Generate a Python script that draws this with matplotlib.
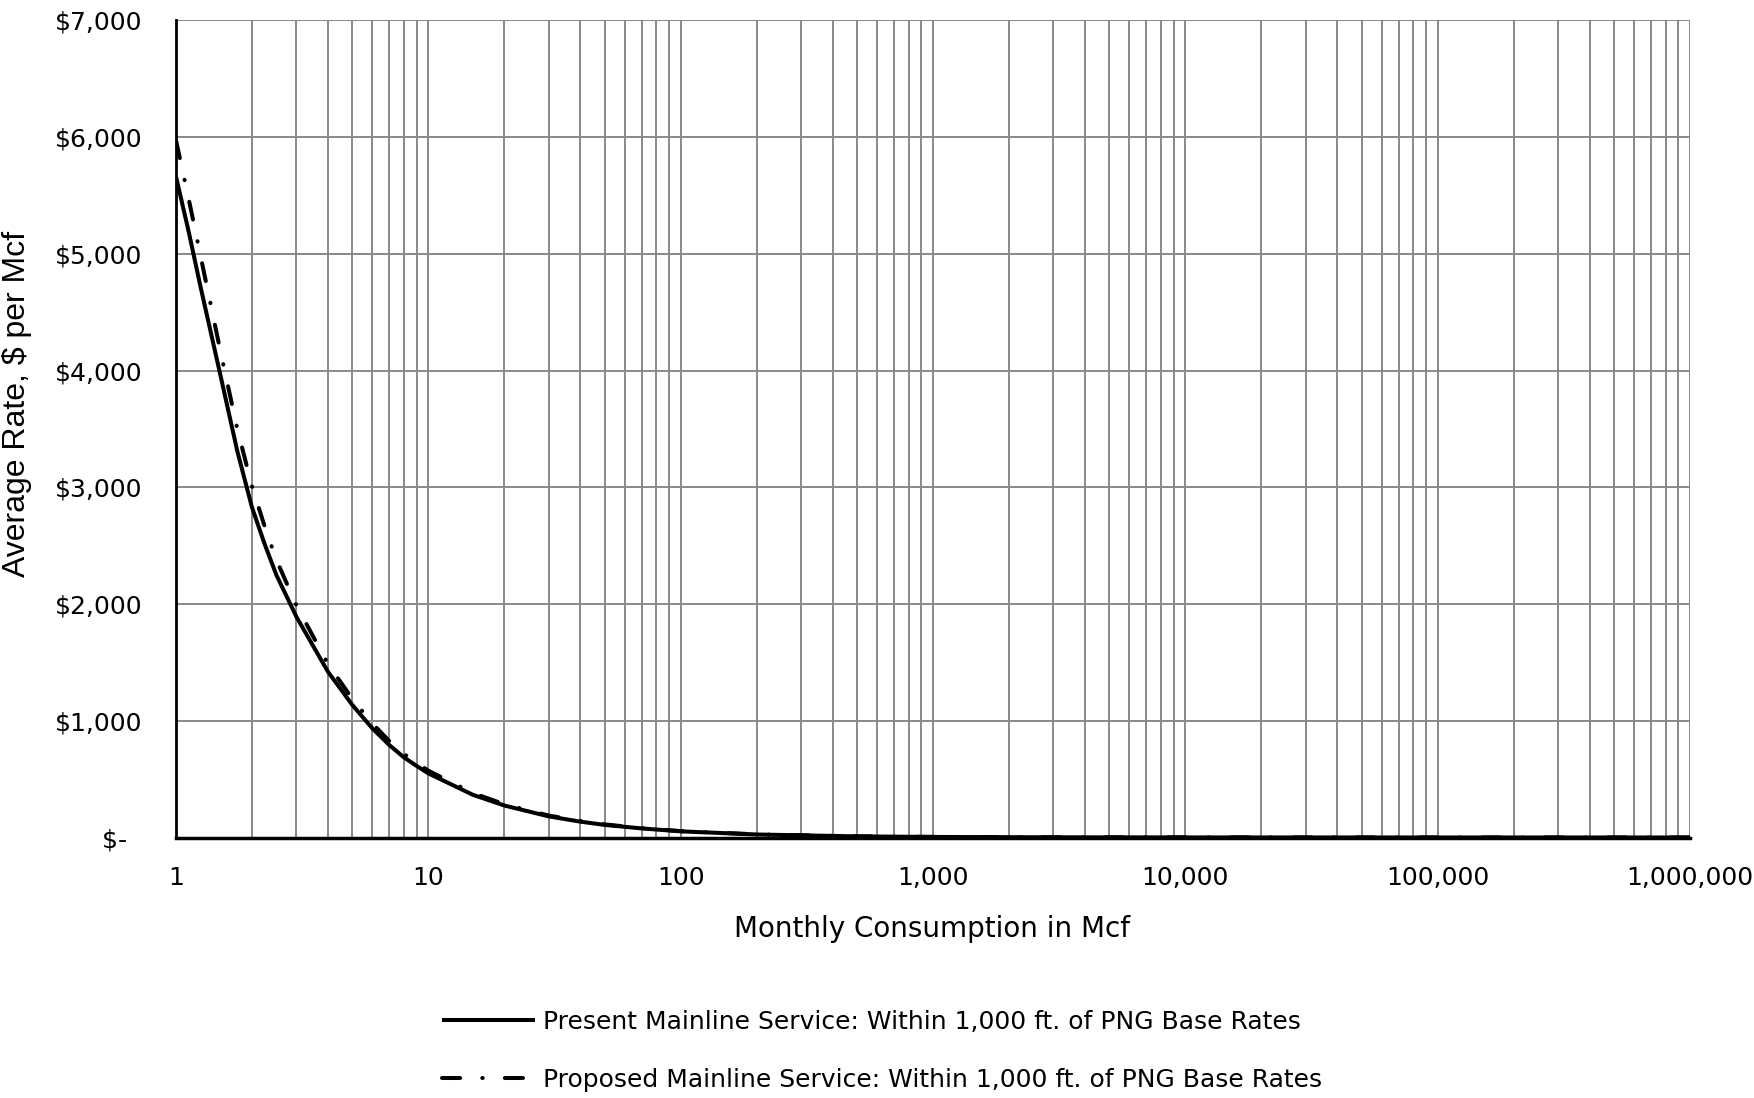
import numpy as np
import matplotlib
matplotlib.use("Agg")
from matplotlib import pyplot as plt
from matplotlib import ticker as mticker

# values
usage_mcf = [1, 1.125, 1.25, 1.5, 1.75, 2, 2.25, 2.5, 3, 4, 5, 6, 7, 8, 9, 10, 15, 20, 30,
             40, 50, 70, 100, 200, 500, 1000, 3000, 10000, 100000, 1000000]
present_rate = [5660, 5180, 4720, 3960, 3310, 2830, 2510, 2250, 1893, 1423, 1138, 938, 796,
                690, 616, 553, 370, 278, 185, 140, 112, 82, 57, 30, 14, 9, 6, 5, 4.5, 4.4]
proposed_rate = [5970, 5460, 4985, 4165, 3500, 3010, 2660, 2380, 1990, 1490, 1190, 980, 830,
                 720, 642, 576, 385, 289, 192, 146, 116, 85, 59, 31, 14.5, 9.3, 6.2, 5.2,
                 4.7, 4.6]

ytick_vals = [0, 1000, 2000, 3000, 4000, 5000, 6000, 7000]
ytick_labels = ["$-  ", "$1,000", "$2,000", "$3,000", "$4,000", "$5,000", "$6,000", "$7,000"]
xtick_vals = [1, 10, 100, 1000, 10000, 100000, 1000000]
xtick_labels = ["1", "10", "100", "1,000", "10,000", "100,000", "1,000,000"]

label_present = "Present Mainline Service: Within 1,000 ft. of PNG Base Rates"
label_proposed = "Proposed Mainline Service: Within 1,000 ft. of PNG Base Rates"

FS = 18
grid_c = '#898989'

fig = plt.figure(figsize=(17.54, 10.98), dpi=100, facecolor='white')
ax = fig.add_axes([176/1754, 1 - 838/1098, (1690-176)/1754, (838-20)/1098])

ax.plot(usage_mcf, present_rate, color='black', lw=2.9, solid_capstyle='butt',
        label=label_present, zorder=4)
ax.plot(usage_mcf, proposed_rate, color='black', lw=2.9, dashes=(4.5, 5.5, 0.1, 5.5),
        dash_capstyle='round', label=label_proposed, zorder=3)

ax.set_xscale('log')
ax.set_xlim(1, 1000000)
ax.set_ylim(0, 7000)

ax.xaxis.set_major_locator(mticker.FixedLocator(xtick_vals))
ax.xaxis.set_major_formatter(mticker.FixedFormatter(xtick_labels))
ax.xaxis.set_minor_locator(mticker.LogLocator(base=10, subs=np.arange(2, 10)))
ax.xaxis.set_minor_formatter(mticker.NullFormatter())
ax.yaxis.set_major_locator(mticker.FixedLocator(ytick_vals))
ax.yaxis.set_major_formatter(mticker.FixedFormatter(ytick_labels))

ax.grid(True, which='both', axis='x', color=grid_c, lw=1.4)
ax.grid(True, which='major', axis='y', color=grid_c, lw=1.4)
ax.set_axisbelow(True)

ax.spines['top'].set_visible(False)
ax.spines['right'].set_visible(False)
ax.spines['left'].set_linewidth(2.0)
ax.spines['bottom'].set_linewidth(2.5)
ax.spines['left'].set_zorder(5)
ax.spines['bottom'].set_zorder(5)

ax.tick_params(axis='both', which='both', length=0, labelsize=FS, colors='black')
ax.tick_params(axis='y', pad=24)
ax.tick_params(axis='x', pad=20)

fig.text(17/1754, 1 - 404/1098, "Average Rate, $ per Mcf", rotation=90,
         ha='center', va='center', fontsize=23, family='Liberation Sans')
fig.text(932/1754, 1 - 929/1098, "Monthly Consumption in Mcf",
         ha='center', va='center', fontsize=20)

fig.legend(loc='upper left', bbox_to_anchor=(442/1754, 1 - 1010/1098),
           frameon=False, fontsize=FS, handlelength=3.7, handletextpad=0.35,
           labelspacing=1.35, borderpad=0, borderaxespad=0)

fig.savefig('out.png', dpi=100, facecolor='white')
